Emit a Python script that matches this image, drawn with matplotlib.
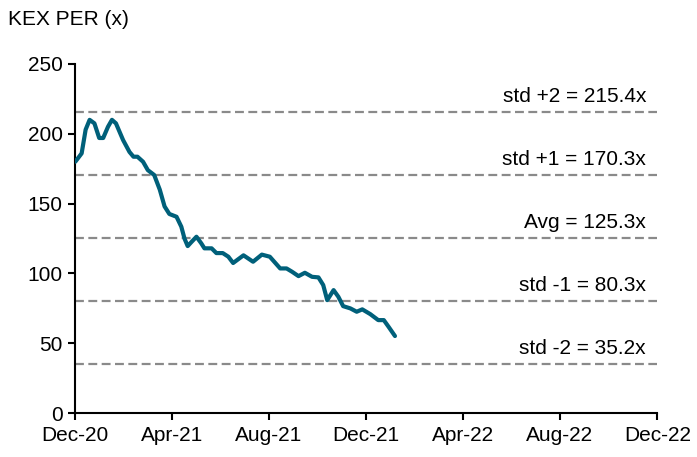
import numpy as np
import pandas as pd
import matplotlib
matplotlib.use("Agg")
import matplotlib.pyplot as plt
import matplotlib.dates as mdates

plt.rcParams['font.family'] = ['Liberation Sans', 'DejaVu Sans']

dates = ["2020-12-01", "2020-12-09", "2020-12-14", "2020-12-19", "2020-12-25", "2020-12-31",
         "2021-01-05", "2021-01-11", "2021-01-16", "2021-01-21", "2021-01-30", "2021-02-07",
         "2021-02-12", "2021-02-17", "2021-02-24", "2021-03-02", "2021-03-10", "2021-03-17",
         "2021-03-23", "2021-03-29", "2021-04-07", "2021-04-13", "2021-04-17", "2021-04-21",
         "2021-04-26", "2021-05-02", "2021-05-08", "2021-05-12", "2021-05-21", "2021-05-27",
         "2021-06-04", "2021-06-11", "2021-06-17", "2021-06-30", "2021-07-12", "2021-07-23",
         "2021-08-02", "2021-08-15", "2021-08-23", "2021-08-30", "2021-09-07", "2021-09-15",
         "2021-09-24", "2021-10-02", "2021-10-08", "2021-10-13", "2021-10-21", "2021-10-27",
         "2021-11-02", "2021-11-11", "2021-11-19", "2021-11-26", "2021-12-06", "2021-12-16",
         "2021-12-23", "2021-12-29", "2022-01-06"]
per = [180, 186, 203, 210, 207.5, 197,
       197, 205, 210, 207.5, 195.5, 187,
       183.6, 183.6, 180, 174, 170.5, 160,
       148, 142.6, 140.6, 133.5, 125, 119.6,
       122.7, 126.3, 121.6, 118, 118, 114.6,
       114.6, 112, 107.5, 113, 108.4, 113.5,
       112, 103.6, 103.6, 101.2, 98.1, 100.5,
       97.6, 97.2, 91.7, 80.9, 88.1, 83.3,
       76.6, 75, 72.6, 74.3, 70.9, 66.6,
       66.6, 61.8, 55.2]

band_values = [215.4, 170.3, 125.3, 80.3, 35.2]
band_labels = ["std +2 = 215.4x", "std +1 = 170.3x", "Avg = 125.3x",
               "std -1 = 80.3x", "std -2 = 35.2x"]

tick_dates = ["2020-12-01", "2021-04-01", "2021-08-01", "2021-12-01",
              "2022-04-01", "2022-08-01", "2022-12-01"]

x = pd.to_datetime(dates)
xt = pd.to_datetime(tick_dates)

fig = plt.figure(figsize=(6.97, 4.57), dpi=100)
ax = fig.add_axes([0.108, 0.096, 0.835, 0.764])

for v, lab in zip(band_values, band_labels):
    ax.axhline(v, color='#8a8a8a', lw=1.6, ls=(0, (4, 2)), zorder=1)
    ax.text(xt[-1] - pd.Timedelta(days=14), v + 4.5, lab, ha='right', va='bottom',
            fontsize=15, color='black')

ax.plot(x, per, color='#00607a', lw=3.0, solid_joinstyle='round',
        solid_capstyle='round', zorder=3)

ax.set_xlim(xt[0], xt[-1])
ax.set_ylim(0, 250)
ax.set_yticks([0, 50, 100, 150, 200, 250])
ax.set_xticks(xt)
ax.xaxis.set_major_formatter(mdates.DateFormatter('%b-%y'))
ax.tick_params(labelsize=15, direction='out', length=5, width=1.5, pad=4)

for s in ['top', 'right']:
    ax.spines[s].set_visible(False)
for s in ['left', 'bottom']:
    ax.spines[s].set_linewidth(1.5)

fig.text(0.012, 0.958, "KEX PER (x)", fontsize=15, ha='left', va='center')

fig.savefig("out.png", dpi=100)
